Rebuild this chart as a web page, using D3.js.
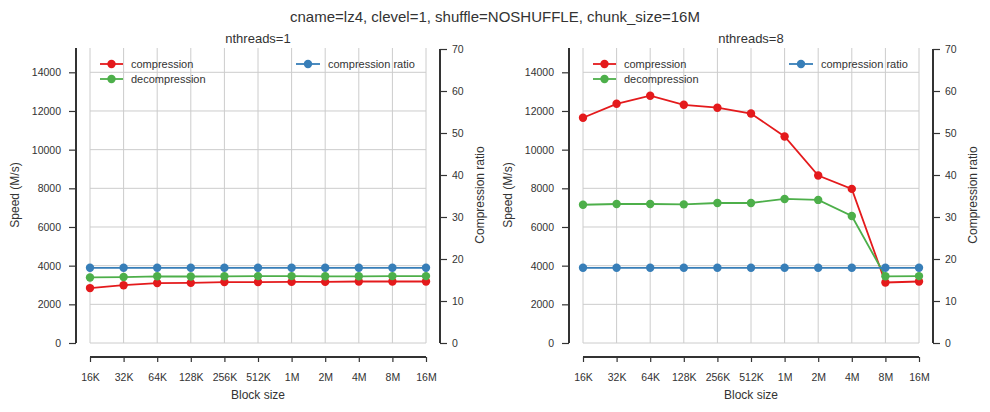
<!DOCTYPE html>
<html>
<head>
<meta charset="utf-8">
<script src="https://cdn.jsdelivr.net/npm/d3@7"></script>
<style>
  body { margin: 0; background: #fff; }
  text { font-family: "Liberation Sans", Arial, sans-serif; fill: #333; }
</style>
</head>
<body>
<div id="chart"></div>
<script>
// block sizes on the x axis
var blockSizes = ["16K", "32K", "64K", "128K", "256K", "512K", "1M", "2M", "4M", "8M", "16M"];
var speedTicks = [0, 2000, 4000, 6000, 8000, 10000, 12000, 14000];
var ratioTicks = [0, 10, 20, 30, 40, 50, 60, 70];

// nthreads=1
var comp1 = [2840, 2990, 3100, 3110, 3150, 3150, 3160, 3160, 3180, 3180, 3180];
var decomp1 = [3390, 3410, 3450, 3440, 3450, 3460, 3460, 3450, 3450, 3460, 3460];
var ratio1 = [17.9, 17.9, 17.9, 17.9, 17.9, 17.9, 17.9, 17.9, 17.9, 17.9, 17.9];

// nthreads=8
var comp8 = [11650, 12370, 12790, 12320, 12170, 11870, 10680, 8660, 7970, 3130, 3180];
var decomp8 = [7150, 7190, 7190, 7170, 7240, 7240, 7450, 7400, 6570, 3450, 3460];
var ratio8 = [17.9, 17.9, 17.9, 17.9, 17.9, 17.9, 17.9, 17.9, 17.9, 17.9, 17.9];

var red = "#e41a1c", green = "#4daf4a", blue = "#377eb8";

var panels = [
  {title: "nthreads=1", x0: 90, ylab: 19, comp: comp1, decomp: decomp1, ratio: ratio1},
  {title: "nthreads=8", x0: 583, ylab: 512, comp: comp8, decomp: decomp8, ratio: ratio8}
];

var W = 990, H = 412;
var plotW = 336, plotTop = 48, plotBottom = 343;

var svg = d3.select("#chart").append("svg")
    .attr("width", W)
    .attr("height", H);

svg.append("text")
    .attr("x", 495).attr("y", 22)
    .attr("text-anchor", "middle")
    .style("font-size", "15px")
    .text("cname=lz4, clevel=1, shuffle=NOSHUFFLE, chunk_size=16M");

panels.forEach(function (p) {
  var g = svg.append("g").attr("transform", "translate(" + p.x0 + ",0)");

  var x = d3.scalePoint().domain(blockSizes).range([0, plotW]);
  var y = d3.scaleLinear().domain([0, 15257]).range([plotBottom, plotTop]);
  var y2 = d3.scaleLinear().domain([0, 70]).range([plotBottom, 49]);

  // grid
  g.selectAll(".vgrid").data(blockSizes).enter().append("line")
      .attr("x1", d => x(d)).attr("x2", d => x(d))
      .attr("y1", plotTop).attr("y2", plotBottom)
      .attr("stroke", "#cccccc").attr("stroke-width", 1);
  g.selectAll(".hgrid").data(speedTicks).enter().append("line")
      .attr("x1", 0).attr("x2", plotW)
      .attr("y1", d => y(d)).attr("y2", d => y(d))
      .attr("stroke", "#cccccc").attr("stroke-width", 1);

  // axes
  var left = g.append("g").attr("transform", "translate(-14,0)")
      .call(d3.axisLeft(y).tickValues(speedTicks).tickSize(7).tickPadding(8).tickFormat(d3.format("d")));
  var right = g.append("g").attr("transform", "translate(" + (plotW + 14) + ",0)")
      .call(d3.axisRight(y2).tickValues(ratioTicks).tickSize(7).tickPadding(5));
  var xa = g.append("g").attr("transform", "translate(0," + (plotBottom + 14) + ")")
      .call(d3.axisBottom(x).tickSize(5).tickPadding(12));

  [left, right, xa].forEach(function (a) {
    a.select(".domain").remove();
    a.selectAll(".tick line").attr("stroke", "#333").attr("stroke-width", 1.2);
    a.selectAll(".tick text").style("font-size", "10.5px").attr("fill", "#333");
  });
  // spines
  g.append("line").attr("x1", -14).attr("x2", -14).attr("y1", plotTop).attr("y2", plotBottom)
      .attr("stroke", "#333").attr("stroke-width", 2);
  g.append("line").attr("x1", plotW + 14).attr("x2", plotW + 14).attr("y1", 49).attr("y2", plotBottom)
      .attr("stroke", "#333").attr("stroke-width", 2);
  g.append("line").attr("x1", 0).attr("x2", plotW).attr("y1", plotBottom + 14).attr("y2", plotBottom + 14)
      .attr("stroke", "#333").attr("stroke-width", 2);

  // labels
  g.append("text").attr("x", plotW / 2).attr("y", 43)
      .attr("text-anchor", "middle").style("font-size", "13px").text(p.title);
  g.append("text").attr("x", plotW / 2).attr("y", 399)
      .attr("text-anchor", "middle").style("font-size", "12px").text("Block size");
  g.append("text")
      .attr("transform", "translate(" + (p.ylab - p.x0) + ",195) rotate(-90)")
      .attr("text-anchor", "middle").style("font-size", "12px").text("Speed (M/s)");
  g.append("text")
      .attr("transform", "translate(" + (plotW + 58) + ",195) rotate(-90)")
      .attr("text-anchor", "middle").style("font-size", "12px").text("Compression ratio");

  // series
  var series = [
    {vals: p.comp, color: red, scale: y},
    {vals: p.decomp, color: green, scale: y},
    {vals: p.ratio, color: blue, scale: y2}
  ];
  series.forEach(function (s) {
    var line = d3.line().x((d, i) => x(blockSizes[i])).y(d => s.scale(d));
    g.append("path").datum(s.vals)
        .attr("d", line).attr("fill", "none")
        .attr("stroke", s.color).attr("stroke-width", 1.8);
    g.selectAll(null).data(s.vals).enter().append("circle")
        .attr("cx", (d, i) => x(blockSizes[i])).attr("cy", d => s.scale(d))
        .attr("r", 4.2).attr("fill", s.color);
  });

  // legends
  var legL = [{name: "compression", color: red}, {name: "decompression", color: green}];
  legL.forEach(function (l, i) {
    var ly = 64 + i * 15;
    g.append("line").attr("x1", 10).attr("x2", 33).attr("y1", ly).attr("y2", ly)
        .attr("stroke", l.color).attr("stroke-width", 1.8);
    g.append("circle").attr("cx", 21.5).attr("cy", ly).attr("r", 4.2).attr("fill", l.color);
    g.append("text").attr("x", 41).attr("y", ly + 4).style("font-size", "11px").text(l.name);
  });
  g.append("line").attr("x1", 206).attr("x2", 230).attr("y1", 64).attr("y2", 64)
      .attr("stroke", blue).attr("stroke-width", 1.8);
  g.append("circle").attr("cx", 218).attr("cy", 64).attr("r", 4.2).attr("fill", blue);
  g.append("text").attr("x", 238).attr("y", 68).style("font-size", "11px").text("compression ratio");
});
</script>
</body>
</html>
